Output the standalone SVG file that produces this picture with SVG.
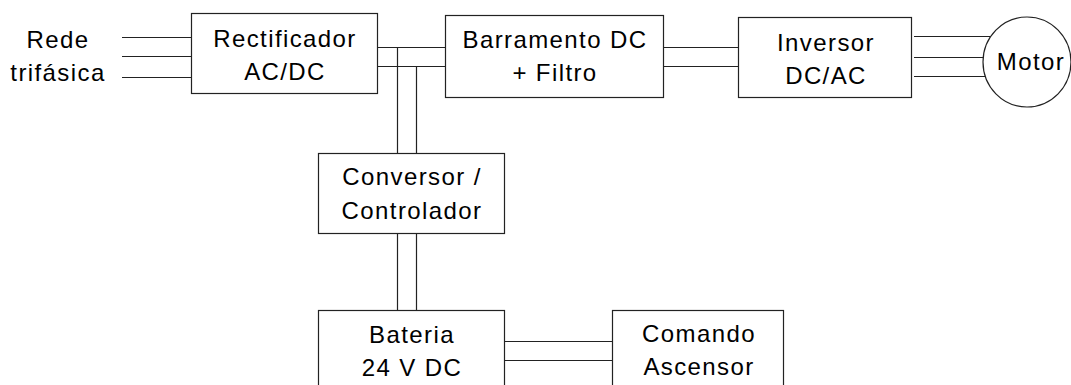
<svg xmlns="http://www.w3.org/2000/svg" width="1071" height="385" viewBox="0 0 1071 385">
<style>
.box{fill:#fff;stroke:#222;stroke-width:1.2}
.ln{fill:none;stroke:#222;stroke-width:1.2}
text{font-family:"Liberation Sans",Arial,sans-serif;font-size:24px;fill:#000;text-anchor:middle;letter-spacing:1.4px}
</style>
<rect width="1071" height="385" fill="#fff"/>
<g id="connectors">
<path class="ln" d="M122 37.5H191.5M122 56.5H191.5M122 77.5H191.5"/>
<path class="ln" d="M377.5 47.5H445.5M377.5 66.5H445.5"/>
<path class="ln" d="M397.5 47.5V153.5M416.5 66.5V153.5"/>
<path class="ln" d="M663.5 47.5H738.5M663.5 66.5H738.5"/>
<path class="ln" d="M914 36.5H990.7M914 57.5H983.2M914 76.5H985.3"/>
<path class="ln" d="M397.5 233.5V310.5M416.5 233.5V310.5"/>
<path class="ln" d="M504.5 341.5H612.5M504.5 360.5H612.5"/>
</g>
<g id="rede">
<text x="58" y="48">Rede</text>
<text x="58" y="81">trifásica</text>
</g>
<g id="rectificador">
<rect class="box" x="191.5" y="13.5" width="186" height="80"/>
<text x="285" y="47">Rectificador</text>
<text x="285" y="80">AC/DC</text>
</g>
<g id="barramento">
<rect class="box" x="445.5" y="15.5" width="218" height="82"/>
<text x="555" y="48">Barramento DC</text>
<text x="555" y="81">+ Filtro</text>
</g>
<g id="inversor">
<rect class="box" x="738.5" y="17.5" width="173" height="80"/>
<text x="826" y="51">Inversor</text>
<text x="826" y="84">DC/AC</text>
</g>
<g id="motor">
<ellipse class="box" cx="1027" cy="62" rx="44" ry="45"/>
<text x="1031" y="70">Motor</text>
</g>
<g id="conversor">
<rect class="box" x="318.5" y="153.5" width="186" height="80"/>
<text x="412" y="185">Conversor /</text>
<text x="412" y="219">Controlador</text>
</g>
<g id="bateria">
<rect class="box" x="318.5" y="310.5" width="186" height="90"/>
<text x="412" y="343">Bateria</text>
<text x="412" y="376">24 V DC</text>
</g>
<g id="comando">
<rect class="box" x="612.5" y="310.5" width="171" height="90"/>
<text x="699" y="342">Comando</text>
<text x="699" y="375">Ascensor</text>
</g>
</svg>
